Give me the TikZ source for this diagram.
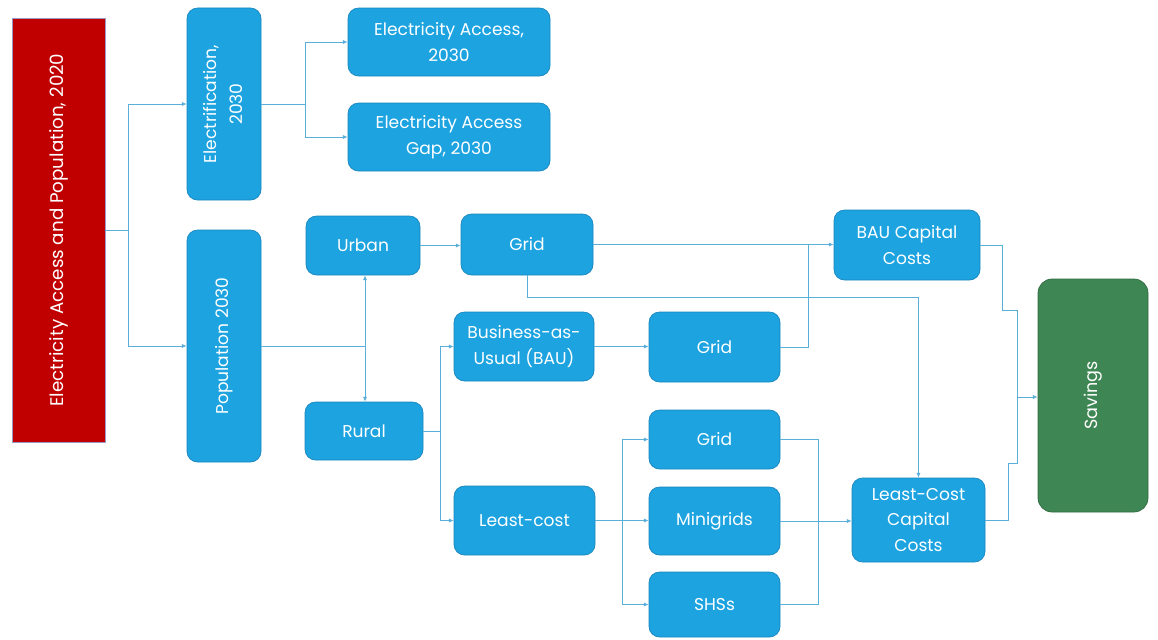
\documentclass[tikz,border=0pt]{standalone}
\usepackage{tikz}
\usetikzlibrary{arrows.meta,positioning}
\usepackage{graphicx}
\usepackage{xcolor}
\usepackage{fontspec}
\setmainfont{Poppins}
\definecolor{boxblue}{HTML}{1CA3E0}
\definecolor{boxedge}{HTML}{1A86BD}
\definecolor{linkblue}{HTML}{5AAFDB}
\definecolor{srcred}{HTML}{C00000}
\definecolor{savgreen}{HTML}{3E8653}

\begin{document}
\begin{tikzpicture}[x=0.03cm,y=-0.03cm,
    every node/.style={font=\fontsize{14.6}{22}\selectfont,align=center,text=white},
    box/.style={fill=boxblue,draw=boxedge,line width=0.6pt,rounded corners=9pt,inner sep=2pt},
    link/.style={draw=linkblue,line width=0.7pt},
    arr/.style={link,-{Latex[length=4pt,width=3.5pt]}}]
  \useasboundingbox (0,0) rectangle (1158,639);
  \node[fill=srcred,draw=black!60!blue!40,line width=0.6pt,minimum width=2.79cm,minimum height=12.72cm,font=\fontsize{15.6}{20}\selectfont] (src) at (58.5,230) {\rotatebox{90}{Electricity Access and Population, 2020}};
  \node[box,minimum width=2.22cm,minimum height=5.76cm] (elec) at (224,104) {\rotatebox{90}{\begin{tabular}{@{}c@{}}Electrification,\\2030\end{tabular}}};
  \node[box,minimum width=2.22cm,minimum height=6.96cm] (pop) at (224,346) {\rotatebox{90}{Population 2030}};
  \node[box,minimum width=6.06cm,minimum height=2.04cm] (acc) at (449,42) {Electricity Access,\\2030};
  \node[box,minimum width=6.06cm,minimum height=2.04cm] (gap) at (449,137) {Electricity Access\\Gap, 2030};
  \node[box,minimum width=3.42cm,minimum height=1.77cm] (urban) at (363,245.5) {Urban};
  \node[box,minimum width=3.54cm,minimum height=1.74cm] (rural) at (364,431) {Rural};
  \node[box,minimum width=3.96cm,minimum height=1.83cm] (ugrid) at (527,244.5) {Grid};
  \node[box,minimum width=4.2cm,minimum height=2.07cm] (bau) at (524,346.5) {Business-as-\\Usual (BAU)};
  \node[box,minimum width=3.93cm,minimum height=2.1cm] (bgrid) at (714.5,347) {Grid};
  \node[box,minimum width=4.23cm,minimum height=2.07cm] (lc) at (524.5,520.5) {Least-cost};
  \node[box,minimum width=3.93cm,minimum height=1.77cm] (lgrid) at (714.5,439.5) {Grid};
  \node[box,minimum width=3.93cm,minimum height=2.04cm] (mini) at (714.5,521) {Minigrids};
  \node[box,minimum width=3.93cm,minimum height=1.95cm] (shs) at (714.5,604.5) {SHSs};
  \node[box,minimum width=4.38cm,minimum height=2.1cm] (baucost) at (907,245) {BAU Capital\\Costs};
  \node[box,minimum width=3.99cm,minimum height=2.52cm] (lccost) at (918.5,520) {Least-Cost\\Capital\\Costs};
  \node[fill=savgreen,draw=savgreen!80!black,line width=0.6pt,rounded corners=12pt,minimum width=3.3cm,minimum height=6.99cm,font=\fontsize{15}{18}\selectfont] (sav) at (1093,395.5) {\rotatebox{90}{Savings}};

  \coordinate (j1) at (128,230);
  \coordinate (j2) at (305,104);
  \coordinate (j3) at (365,346);
  \coordinate (j4) at (808,245);
  \coordinate (j5) at (527,297);
  \coordinate (j6) at (440,431);
  \coordinate (j7) at (622,520.5);
  \coordinate (j8) at (818,520);
  \coordinate (j9) at (1017,397);
  \coordinate (k1) at (1002,310);
  \coordinate (k2) at (1008,463);

  \draw[link] (src.east |- j1) -- (j1);
  \draw[arr] (j1) |- (elec.west);
  \draw[arr] (j1) |- (pop.west);
  \draw[link] (elec.east) -- (j2);
  \draw[arr] (j2) |- (acc.west);
  \draw[arr] (j2) |- (gap.west);
  \draw[link] (pop.east) -- (j3);
  \draw[arr] (j3) -- (j3 |- urban.south);
  \draw[arr] (j3) -- (j3 |- rural.north);
  \draw[arr] (urban.east) -- (urban.east -| ugrid.west);
  \draw[arr] (ugrid.east) -- (ugrid.east -| baucost.west);
  \draw[link] (bgrid.east) -| (j4);
  \draw[arr] (ugrid.south) -- (j5) -| (lccost.north);
  \draw[link] (rural.east) -- (j6);
  \draw[arr] (j6) |- (bau.west);
  \draw[arr] (j6) |- (lc.west);
  \draw[arr] (bau.east) -- (bau.east -| bgrid.west);
  \draw[link] (lc.east) -- (j7);
  \draw[arr] (j7) |- (lgrid.west);
  \draw[arr] (j7) -- (j7 -| mini.west);
  \draw[arr] (j7) |- (shs.west);
  \draw[link] (lgrid.east) -| (j8) |- (shs.east);
  \draw[arr] (mini.east) -- (mini.east -| lccost.west);
  \draw[link] (baucost.east) -| (k1) -| (j9);
  \draw[link] (lccost.east) -| (k2) -| (j9);
  \draw[arr] (j9) -- (j9 -| sav.west);
\end{tikzpicture}
\end{document}
